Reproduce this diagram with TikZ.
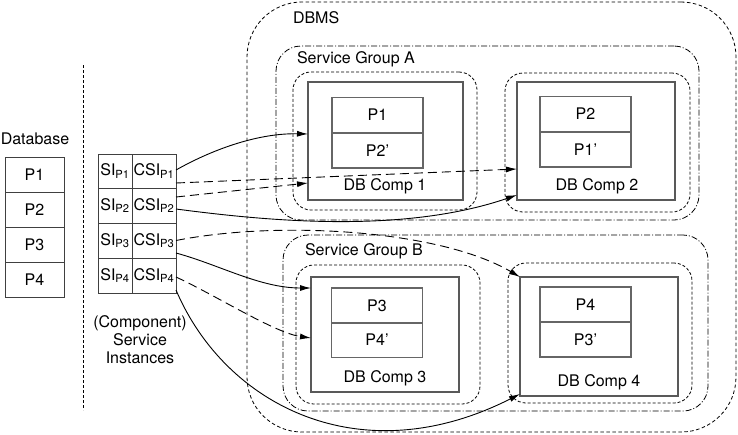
\documentclass[tikz,border=0pt]{standalone}
\usepackage{fontspec}
\setmainfont{TeX Gyre Heros}
\usetikzlibrary{arrows.meta,calc}
\begin{document}
\begin{tikzpicture}[x=1pt,y=-1pt,
  font=\fontsize{16}{18}\selectfont,
  cell/.style={draw=black!75,line width=0.8pt,inner sep=0pt,outer sep=0pt,minimum width=#1},
  pbox/.style={draw=black!60,line width=1.1pt,inner sep=0pt,outer sep=0pt,minimum width=91pt,minimum height=35pt},
  comp/.style={draw=black!65,line width=1.2pt,inner sep=0pt,outer sep=0pt},
  compgrp/.style={draw=black,line width=0.8pt,dash pattern=on 3pt off 2pt,rounded corners=18pt,inner sep=0pt,outer sep=0pt},
  svcgrp/.style={draw=black,line width=0.8pt,dash pattern=on 6pt off 2pt on 1pt off 2pt,rounded corners=25pt,inner sep=0pt,outer sep=0pt},
  dbmsgrp/.style={draw=black,line width=0.8pt,dash pattern=on 3.5pt off 2.5pt,rounded corners=55pt,inner sep=0pt,outer sep=0pt},
  lbl/.style={inner sep=0pt,outer sep=0pt},
  act/.style={line width=0.9pt,-{Latex[length=11pt,width=6pt]}},
  stby/.style={line width=0.9pt,dash pattern=on 9pt off 5pt,-{Latex[length=11pt,width=6pt]}}
]
\useasboundingbox (0,0) rectangle (738,434);

% DBMS and groups
\node[dbmsgrp,minimum width=489pt,minimum height=430pt] (dbms) at (491.5,217) {};
\node[lbl,anchor=base west] (dbmslbl) at (293,23.5) {DBMS};
\node[svcgrp,minimum width=423pt,minimum height=174pt] (sga) at (487.5,133) {};
\node[lbl,anchor=base west] (sgalbl) at (297,63) {Service Group A};
\node[svcgrp,minimum width=425pt,minimum height=176pt] (sgb) at (495.5,323) {};
\node[lbl,anchor=base west] (sgblbl) at (305,255) {Service Group B};

\node[compgrp,minimum width=184pt,minimum height=138pt] (g1) at (385,141) {};
\node[compgrp,minimum width=185pt,minimum height=139pt] (g2) at (597.5,142.5) {};
\node[compgrp,minimum width=184pt,minimum height=139pt] (g3) at (388,334.5) {};
\node[compgrp,minimum width=184pt,minimum height=140pt] (g4) at (600,333) {};

% DB components
\node[comp,minimum width=155pt,minimum height=118pt] (c1) at (385.5,141) {};
\node[comp,minimum width=158pt,minimum height=118pt] (c2) at (596,141) {};
\node[comp,minimum width=148pt,minimum height=115pt] (c3) at (385,334.5) {};
\node[comp,minimum width=158pt,minimum height=119pt] (c4) at (599,336.5) {};

\node[lbl] (c1l) at (385,186) {DB Comp 1};
\node[lbl] (c2l) at (597,186) {DB Comp 2};
\node[lbl] (c3l) at (385,378) {DB Comp 3};
\node[lbl] (c4l) at (599,382) {DB Comp 4};

\node[pbox] (c1a) at (377.5,115) {P1};
\node[pbox] (c1b) at (377.5,150.5) {P2’};
\node[pbox] (c2a) at (585.5,114) {P2};
\node[pbox] (c2b) at (585.5,149.5) {P1’};
\node[pbox] (c3a) at (377,305.5) {P3};
\node[pbox] (c3b) at (377,340) {P4’};
\node[pbox] (c4a) at (585.5,304.5) {P4};
\node[pbox] (c4b) at (585.5,339.5) {P3’};

% Database
\node[lbl] (dblbl) at (35,139) {Database};
\node[cell=59pt,minimum height=35pt] (d1) at (34.5,174.5) {P1};
\node[cell=59pt,minimum height=35pt] (d2) at (34.5,209.5) {P2};
\node[cell=59pt,minimum height=35pt] (d3) at (34.5,244.5) {P3};
\node[cell=59pt,minimum height=35pt] (d4) at (34.5,279.5) {P4};

% separator
\draw[line width=0.8pt,dash pattern=on 3pt off 2pt] (83,65) -- (83,410);

% Service instances
\node[cell=34pt,minimum height=34pt] (si1) at (115,171) {SI\textsubscript{P1}};
\node[cell=44pt,minimum height=34pt] (csi1) at (154,171) {CSI\textsubscript{P1}};
\node[cell=34pt,minimum height=35pt] (si2) at (115,205.5) {SI\textsubscript{P2}};
\node[cell=44pt,minimum height=35pt] (csi2) at (154,205.5) {CSI\textsubscript{P2}};
\node[cell=34pt,minimum height=35pt] (si3) at (115,240.5) {SI\textsubscript{P3}};
\node[cell=44pt,minimum height=35pt] (csi3) at (154,240.5) {CSI\textsubscript{P3}};
\node[cell=34pt,minimum height=35pt] (si4) at (115,275.5) {SI\textsubscript{P4}};
\node[cell=44pt,minimum height=35pt] (csi4) at (154,275.5) {CSI\textsubscript{P4}};
\node[lbl,align=center] (silbl) at (140,340) {(Component)\\Service\\Instances};

% connectors
\draw[act] ($(csi1.east)+(0,-1)$) .. controls (215,148) and (260,133) .. ($(c1.west)+(0,-7)$);
\draw[stby] ($(csi1.east)+(0,12)$) -- ($(c2.west)+(0,28)$);
\draw[stby] ($(csi2.east)+(0,-8.5)$) -- ($(c1.west)+(0,42)$);
\draw[act] ($(csi2.east)+(0,3.5)$) .. controls (260,220) and (400,235) .. ($(c2.west)+(0,54)$);
\draw[stby] ($(csi3.east)+(0,0)$) .. controls (280,220) and (440,230) .. (c4.north west);
\draw[act] ($(csi3.east)+(0,12.5)$) .. controls (220,265) and (260,288) .. ($(c3.west)+(0,-46.5)$);
\draw[stby] ($(csi4.east)+(0,1.5)$) .. controls (215,295) and (275,333) .. ($(c3.west)+(0,3.5)$);
\draw[act] ($(csi4.east)+(0,14.5)$) .. controls (225,405) and (360,475) .. ($(c4.west)+(0,57.5)$);
\end{tikzpicture}
\end{document}
